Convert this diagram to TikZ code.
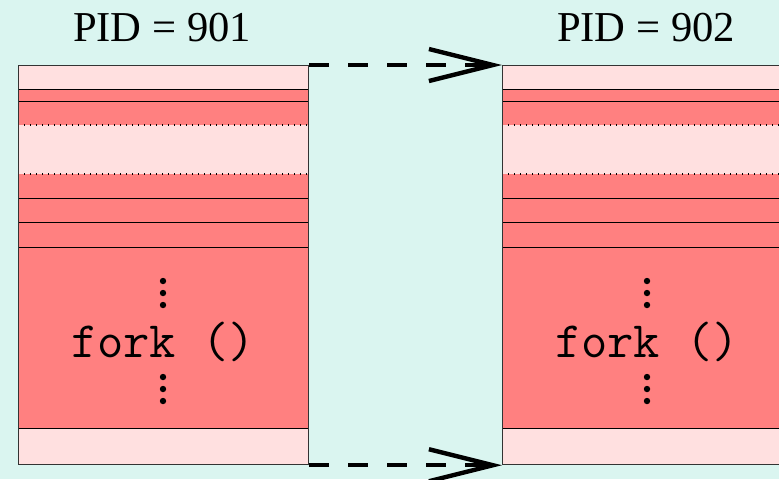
\documentclass[tikz,border=0pt]{standalone}
\usepackage{fontspec}
\setmainfont{Liberation Serif}
\usetikzlibrary{arrows.meta}
\definecolor{bgcol}{RGB}{218,245,240}
\definecolor{lightband}{RGB}{255,224,224}
\definecolor{redband}{RGB}{255,128,128}
\tikzset{
  sepline/.style={line width=0.5pt, black},
  dotline/.style={line width=0.6pt, black, dash pattern=on 0.6pt off 2.4pt},
  colbox/.style={draw=black!80, line width=0.6pt, inner sep=0pt, minimum width=145pt, minimum height=199.5pt, anchor=north west},
  pidlabel/.style={font=\fontsize{21.3pt}{24pt}\selectfont, anchor=base, inner sep=0pt},
  codelabel/.style={font=\ttfamily\fontsize{25.5pt}{28pt}\selectfont, anchor=base, inner sep=0pt},
  vdot/.style={circle, fill=black, inner sep=0pt, minimum size=3.2pt},
  copyarrow/.style={line width=2.2pt, dash pattern=on 10pt off 9.5pt, -{Straight Barb[length=32pt, width=16pt, line width=2.2pt]}}
}
\begin{document}
\begin{tikzpicture}[x=0.5pt, y=-0.5pt]
\clip (0,0) rectangle (779,479);
\fill[bgcol] (0,0) rectangle (779,479);
\foreach \dx/\n/\pid in {0/A/901, 484/B/902}{
  \begin{scope}[shift={(\dx,0)}]
    \fill[lightband] (18,65) rectangle (308,89);
    \fill[redband] (18,89) rectangle (308,125);
    \fill[lightband] (18,125) rectangle (308,174);
    \fill[redband] (18,174) rectangle (308,428);
    \fill[lightband] (18,428) rectangle (308,464);
    \foreach \yy in {89,101,198,222,247,428}{
      \draw[sepline] (18,\yy) -- (308,\yy);
    }
    \foreach \yy in {125,174}{
      \draw[dotline] (18,\yy) -- (308,\yy);
    }
    \node[colbox] (col\n) at (18,65) {};
    \node[pidlabel] (pid\n) at (162,41) {PID = \pid};
    \node[codelabel] (fork\n) at (163,357) {fork ()};
    \node[vdot] (ua\n) at (163,281) {};
    \node[vdot] (ub\n) at (163,293) {};
    \node[vdot] (uc\n) at (163,305) {};
    \node[vdot] (da\n) at (163,377) {};
    \node[vdot] (db\n) at (163,389) {};
    \node[vdot] (dc\n) at (163,401) {};
  \end{scope}
}
\draw[copyarrow] (colA.north east) -- (colB.north west);
\draw[copyarrow] (colA.south east) -- (colB.south west);
\end{tikzpicture}
\end{document}
